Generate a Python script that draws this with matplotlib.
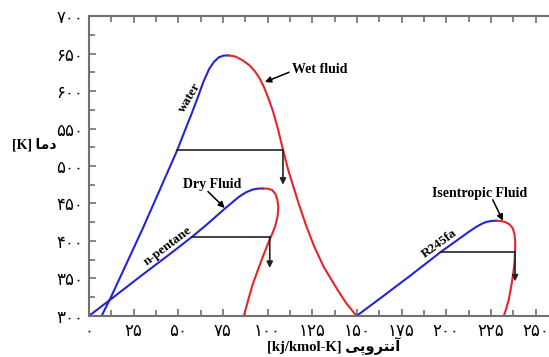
import matplotlib
matplotlib.use("Agg")
import matplotlib.pyplot as plt
from matplotlib.ticker import MultipleLocator

# water (wet fluid)
waterLiqS = [7.1, 12.1, 30, 49.4, 54, 57.5, 61, 64, 67.2, 70, 72.7, 75.5, 78.3]
waterLiqT = [300, 324, 416, 521, 549, 570, 592, 612, 629, 639, 645, 647.3, 647.5]
waterVapS = [78.3, 82, 86, 90, 93, 95.5, 98, 100.5, 103, 105.5, 108.7, 111.5, 114.5, 117.5, 121.5, 126, 131.5, 138.6, 144, 149.8]
waterVapT = [647.5, 646, 641, 634, 626, 617, 605, 590, 573, 552, 521, 495, 472, 449, 421, 393, 365, 337, 317, 300]

# n-pentane (dry fluid)
pentLiqS = [0, 12.1, 30, 45, 57.8, 66, 75.5, 80, 84, 88, 91.5, 94.5, 97.5]
pentLiqT = [300, 322, 355, 382, 405.7, 422, 442, 451, 459, 465, 468.5, 469.8, 470]
pentVapS = [97.5, 100, 102.5, 104.3, 105.5, 106, 105.6, 104.3, 102.5, 100.3, 97.5, 94.5, 91.5, 89, 86.7]
pentVapT = [470, 469.8, 468, 463, 455, 445, 433, 420, 409, 397, 380, 361, 341, 320, 300]

# R245fa (isentropic fluid)
r245LiqS = [149.8, 165, 180, 197, 207.6, 212.5, 216.9, 220, 222.5, 225.3, 228.1]
r245LiqT = [300, 327, 354, 385.5, 403.6, 412, 419, 423, 425.5, 426.7, 427]
r245VapS = [228.1, 230.8, 233.3, 235.5, 237.2, 238.2, 238.6, 238.5, 238.2, 237.5, 236.4, 235, 233.6, 232.2]
r245VapT = [427, 426.5, 425, 422, 417, 409, 398, 386, 372, 357, 340, 322, 310, 300]

# expansion lines: (s_left, s_right, T_top, T_end)
expLines = [(49.4, 108.6, 521, 475), (57.8, 101.2, 405.8, 364), (197, 238.5, 385.5, 346)]

xTicks = [0, 25, 50, 75, 100, 125, 150, 175, 200, 225, 250]
xTickLabels = ["۰", "۲۵", "۵۰", "۷۵", "۱۰۰", "۱۲۵", "۱۵۰", "۱۷۵", "۲۰۰", "۲۲۵", "۲۵۰"]
yTicks = [300, 350, 400, 450, 500, 550, 600, 650, 700]
yTickLabels = ["۳۰۰", "۳۵۰", "۴۰۰", "۴۵۰", "۵۰۰", "۵۵۰", "۶۰۰", "۶۵۰", "۷۰۰"]

xLabelFa = "آنتروپی"
yLabelFa = "دما"

# presentation forms: (isolated, final, initial, medial)
forms = {
    "ا": ("\uFE8D", "\uFE8E", None, None),
    "آ": ("\uFE81", "\uFE82", None, None),
    "د": ("\uFEA9", "\uFEAA", None, None),
    "ر": ("\uFEAD", "\uFEAE", None, None),
    "و": ("\uFEED", "\uFEEE", None, None),
    "م": ("\uFEE1", "\uFEE2", "\uFEE3", "\uFEE4"),
    "ن": ("\uFEE5", "\uFEE6", "\uFEE7", "\uFEE8"),
    "ت": ("\uFE95", "\uFE96", "\uFE97", "\uFE98"),
    "پ": ("\uFB56", "\uFB57", "\uFB58", "\uFB59"),
    "ی": ("\uFBFC", "\uFBFD", "\uFBFE", "\uFBFF"),
}

def shapeFa(word):
    out = []
    for i, ch in enumerate(word):
        f = forms[ch]
        prevJoin = i > 0 and forms[word[i - 1]][2] is not None
        nextJoin = i < len(word) - 1 and f[2] is not None
        if prevJoin and nextJoin:
            out.append(f[3])
        elif prevJoin:
            out.append(f[1])
        elif nextJoin:
            out.append(f[2])
        else:
            out.append(f[0])
    return "".join(reversed(out))

blue = "#2424d8"
red = "#e4252b"
spineCol = "#707070"

fig = plt.figure(figsize=(5.49, 3.57), dpi=100)
ax = fig.add_axes([0.162, 0.115, 0.838, 0.840])

ax.plot(waterLiqS, waterLiqT, color=blue, lw=1.5)
ax.plot(waterVapS, waterVapT, color=red, lw=1.5)
ax.plot(pentLiqS, pentLiqT, color=blue, lw=1.5)
ax.plot(pentVapS, pentVapT, color=red, lw=1.5)
ax.plot(r245LiqS, r245LiqT, color=blue, lw=1.5)
ax.plot(r245VapS, r245VapT, color=red, lw=1.5)

for s0, s1, t0, t1 in expLines:
    ax.plot([s0, s1], [t0, t0], color="#222222", lw=1.2)
    ax.annotate("", xy=(s1, t1), xytext=(s1, t0),
                arrowprops=dict(arrowstyle="-|>", color="#222222", lw=1.2,
                                mutation_scale=9, shrinkA=0, shrinkB=0))

serif = ["Liberation Serif", "DejaVu Serif"]
ax.text(56.5, 591, "water", rotation=59, fontsize=9.5, fontweight="bold",
        family=serif, ha="center", va="center")
ax.text(44, 393, "n-pentane", rotation=37, fontsize=9.5, fontweight="bold",
        family=serif, ha="center", va="center")
ax.text(196, 397, "R245fa", rotation=36, fontsize=9.5, fontweight="bold",
        family=serif, ha="center", va="center")

ax.text(113.5, 629, "Wet fluid", fontsize=10, fontweight="bold", family=serif,
        ha="left", va="center")
ax.annotate("", xy=(98.5, 612), xytext=(112, 625),
            arrowprops=dict(arrowstyle="-|>", color="k", lw=1.1, mutation_scale=9,
                            shrinkA=0, shrinkB=0))
ax.text(69, 475, "Dry Fluid", fontsize=10, fontweight="bold", family=serif,
        ha="center", va="center")
ax.annotate("", xy=(76, 444), xytext=(66.6, 466),
            arrowprops=dict(arrowstyle="-|>", color="k", lw=1.1, mutation_scale=9,
                            shrinkA=0, shrinkB=0))
ax.text(218.5, 463, "Isentropic Fluid", fontsize=10, fontweight="bold", family=serif,
        ha="center", va="center")
ax.annotate("", xy=(231.7, 427), xytext=(226, 455),
            arrowprops=dict(arrowstyle="-|>", color="k", lw=1.1, mutation_scale=9,
                            shrinkA=0, shrinkB=0))

ax.set_xlim(0, 257.5)
ax.set_ylim(300, 700)
ax.set_xticks(xTicks)
ax.set_xticklabels(xTickLabels)
ax.set_yticks(yTicks)
ax.set_yticklabels(yTickLabels)
ax.xaxis.set_minor_locator(MultipleLocator(12.5))
ax.yaxis.set_minor_locator(MultipleLocator(25))
ax.tick_params(which="both", direction="in", top=True, bottom=True, right=False,
               color=spineCol, width=1.2, labelsize=12)
ax.tick_params(which="major", length=5)
ax.tick_params(which="minor", length=4)
ax.tick_params(axis="x", pad=4)
ax.tick_params(axis="y", pad=4)
for lab in ax.get_xticklabels() + ax.get_yticklabels():
    lab.set_family("DejaVu Sans")

ax.spines["right"].set_visible(False)
for side in ["left", "top", "bottom"]:
    ax.spines[side].set_color(spineCol)
    ax.spines[side].set_linewidth(1.5)

fig.text(334 / 549, 1 - 347 / 357, "[kj/kmol-K] " + shapeFa(xLabelFa),
         family=["Liberation Serif", "DejaVu Sans"], fontweight="bold",
         fontsize=10.5, ha="center", va="center")
fig.text(12 / 549, 1 - 145 / 357, "[K] " + shapeFa(yLabelFa),
         family=["Liberation Serif", "DejaVu Sans"], fontweight="bold",
         fontsize=10, ha="left", va="center")

fig.savefig("out.png", dpi=100)
